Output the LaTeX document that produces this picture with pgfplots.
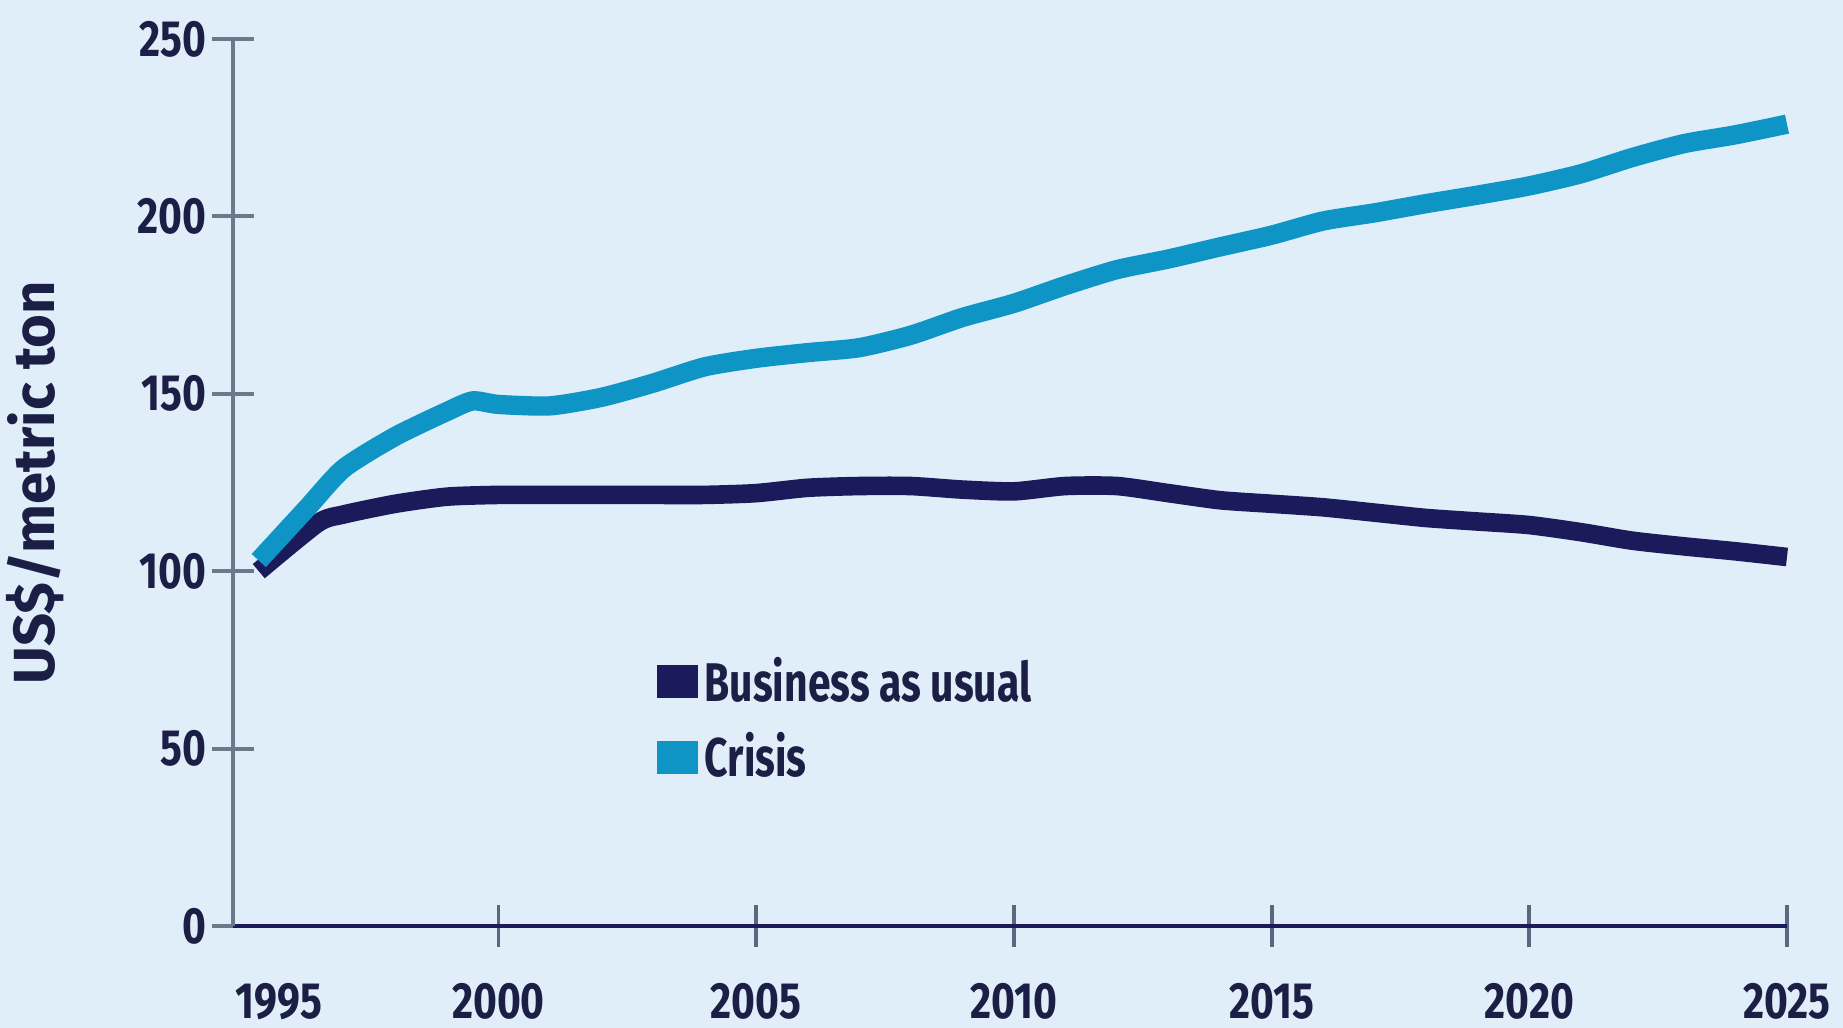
\documentclass[border=0pt]{standalone}
\usepackage{pgfplots}
\pgfplotsset{compat=1.18}
\usepackage{fontspec}
\setmainfont{Fira Sans}[FakeStretch=0.8]
\newfontfamily\legfont{Fira Sans}[FakeStretch=0.75]
\newfontfamily\labfont{Fira Sans}
\definecolor{bg}{HTML}{DFEEF8}
\definecolor{navy}{HTML}{1B1B5C}
\definecolor{crisis}{HTML}{0E95C6}
\definecolor{axgrey}{HTML}{6B7A8A}
\definecolor{txt}{HTML}{1B1F45}
\begin{document}
\begin{tikzpicture}
\fill[bg] (-2.33cm,-1.02cm) rectangle (16.10cm,9.26cm);
\path[use as bounding box] (-2.33cm,-1.02cm) rectangle (16.10cm,9.26cm);
\begin{axis}[
  at={(0,0)}, anchor=south west,
  scale only axis, width=15.54cm, height=8.87cm,
  xmin=1994.85, xmax=2025, ymin=0, ymax=250,
  axis lines*=left,
  axis line style={-},
  x axis line style={draw=navy, line width=1.3pt},
  y axis line style={draw=axgrey, line width=1.1pt},
  xtick={2000,2005,2010,2015,2020,2025},
  xticklabels={2000,2005,2010,2015,2020,2025},
  extra x ticks={1995},
  extra x tick labels={1995},
  extra x tick style={x tick style={draw=none}, xticklabel style={xshift=0.38cm}},
  ytick={0,50,100,150,200,250},
  tick align=center,
  major tick length=0.42cm,
  x tick style={draw=axgrey!80!navy, line width=1.1pt},
  y tick style={draw=axgrey, line width=1.1pt},
  tick label style={font=\fontsize{14.5}{16}\selectfont\bfseries, text=txt},
  /pgf/number format/assume math mode=true,
  xticklabel style={anchor=north, yshift=-0.24cm},
  yticklabel style={anchor=east, xshift=0.07cm},
  ylabel={US\$/metric ton},
  every axis y label/.style={at={(axis description cs:0,0.5)}, rotate=90, anchor=center, yshift=1.98cm, font=\labfont\fontsize{16.5}{18}\selectfont\bfseries, text=txt},
  legend style={at={(axis cs:2002.85,80)}, anchor=north west, draw=none, fill=none,
    font=\legfont\fontsize{15.5}{17}\selectfont\bfseries, text=txt, row sep=0.12cm,
    /tikz/every even column/.append style={column sep=0.33cm}},
  legend image code/.code={\fill[#1, draw=none] (0cm,-0.165cm) rectangle (0.41cm,0.165cm);},
  legend cell align=left,
  clip=false,
]
\addplot[navy, line width=5.3pt, smooth, tension=0.4, line cap=butt] coordinates {
(1995.35,100) (1996.5,113.6) (1997,116) (1998,119) (1999,121) (2000,121.5) (2001,121.5) (2002,121.5) (2003,121.5) (2004,121.5) (2005,122) (2006,123.5) (2007,124) (2008,124) (2009,123) (2010,122.5) (2011,124) (2012,124) (2013,122) (2014,120) (2015,119) (2016,118) (2017,116.5) (2018,115) (2019,114) (2020,113) (2021,111) (2022,108.6) (2023,107) (2024,105.6) (2025,104)
};
\addlegendentry{Business as usual}
\addplot[crisis, line width=5.5pt, smooth, tension=0.4, line cap=butt] coordinates {
(1995.35,103) (1996.3,118) (1997,129) (1998,138) (1999,145) (1999.5,148) (2000,147) (2001,146.6) (2002,149) (2003,153) (2004,157.6) (2005,160) (2006,161.6) (2007,163) (2008,166.5) (2009,171.5) (2010,175.5) (2011,180.5) (2012,185) (2013,188) (2014,191.4) (2015,194.7) (2016,198.7) (2017,201) (2018,203.6) (2019,206) (2020,208.6) (2021,212) (2022,216.6) (2023,220.5) (2024,223) (2025,226)
};
\addlegendentry{Crisis}
\end{axis}
\end{tikzpicture}
\end{document}
